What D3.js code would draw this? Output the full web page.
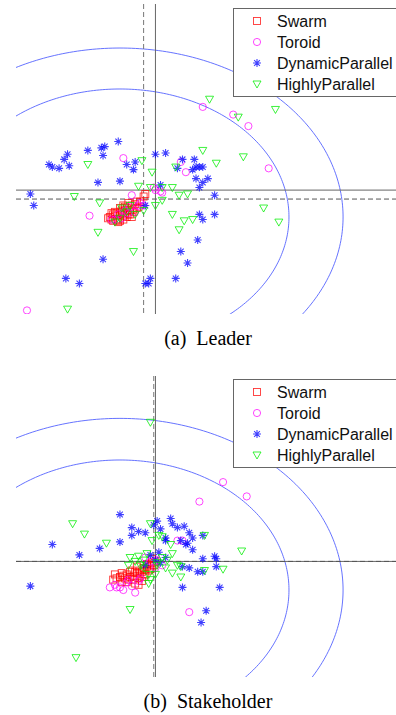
<!DOCTYPE html>
<html>
<head>
<meta charset="utf-8">
<script src="https://cdn.jsdelivr.net/npm/d3@7"></script>
<style>
  html, body { margin: 0; padding: 0; background: #fff; }
  svg { display: block; }
</style>
</head>
<body>
<svg id="chart" width="396" height="715"></svg>
<script>
// ---------- DATA ----------
const categories = ["Swarm", "Toroid", "DynamicParallel", "HighlyParallel"];
const panelTitles = ["(a)  Leader", "(b)  Stakeholder"];
const ringRadii = [1.0, 1.32];

// Leader panel ([x, y] pairs)
const leaderSwarm = [[-0.06,0.00],[-0.05,-0.02],[-0.03,0.01],[-0.02,0.03],[-0.01,-0.02],[0.00,0.02],[0.01,0.05],[0.02,0.01],[0.03,0.05],[0.04,0.07],[0.05,0.02],[0.06,0.05],[0.07,0.09],[0.08,0.06],[0.09,0.10],[-0.01,-0.04],[-0.02,-0.02],[0.02,0.09],[0.11,0.08],[0.15,0.18],[0.14,0.16],[-0.04,0.02],[0.01,0.04],[0.04,0.00],[0.05,0.11],[-0.07,-0.01],[-0.04,-0.03],[0.00,-0.03],[0.03,0.03],[0.06,0.02],[0.08,0.04],[0.10,0.07],[0.12,0.12],[0.00,0.07],[-0.03,0.04],[0.02,-0.02],[0.07,0.00],[0.10,0.12],[-0.05,0.03],[0.03,0.08]];
const leaderToroid = [[0.49,0.86],[0.67,0.80],[0.76,0.71],[0.88,0.38],[0.02,0.46],[-0.18,0.01],[0.39,0.35],[0.36,0.43],[0.21,0.21],[0.20,0.23],[0.24,0.20],[0.25,0.19],[0.14,0.09],[0.12,0.11],[-0.55,-0.73],[0.07,0.17],[-0.01,0.02],[0.03,0.05],[0.06,0.08],[0.01,-0.01],[-0.03,-0.02],[0.09,0.04],[0.05,0.03],[0.11,0.09],[-0.05,-0.02]];
const leaderDynamic = [[-0.01,0.59],[-0.19,0.52],[-0.11,0.54],[-0.09,0.55],[-0.10,0.48],[-0.31,0.49],[-0.33,0.45],[-0.42,0.41],[-0.40,0.39],[-0.36,0.38],[-0.30,0.40],[-0.13,0.27],[0.00,0.28],[0.04,0.41],[0.09,0.43],[0.08,0.37],[-0.53,0.18],[-0.51,0.09],[0.15,0.09],[0.21,0.49],[0.27,0.50],[0.37,0.45],[0.34,0.38],[0.44,0.45],[0.43,0.37],[0.45,0.39],[0.47,0.39],[0.49,0.39],[0.45,0.30],[0.49,0.27],[0.52,0.30],[0.47,0.23],[0.56,0.17],[0.24,0.25],[0.47,0.02],[0.56,0.02],[0.49,-0.02],[0.46,-0.18],[0.36,-0.27],[0.40,-0.36],[-0.10,-0.33],[-0.32,-0.48],[-0.24,-0.52],[0.18,-0.48],[0.15,-0.52],[0.17,-0.52],[0.33,-0.48]];
const leaderHighly = [[0.53,0.92],[0.70,0.78],[0.92,0.84],[0.49,0.52],[0.57,0.42],[0.73,0.47],[0.19,0.35],[0.33,0.39],[0.13,0.44],[0.31,0.23],[0.35,0.17],[0.40,0.18],[0.25,0.13],[0.21,0.09],[0.31,0.02],[0.38,-0.03],[0.43,-0.02],[0.35,-0.10],[0.85,0.07],[0.94,-0.04],[0.18,0.23],[0.25,0.23],[0.14,0.05],[-0.19,0.41],[-0.27,0.16],[-0.12,0.11],[-0.13,-0.12],[0.08,-0.27],[-0.31,-0.72],[0.11,0.24],[0.04,0.04],[0.00,-0.01],[0.06,0.09],[-0.03,-0.04],[0.09,0.02],[0.01,0.07]];
const leaderDashed = [0.14, 0.14];   // [x, y] of dashed reference lines
const leaderSolid  = [0.21, 0.21];   // [x, y] of solid reference lines

// Stakeholder panel ([x, y] pairs)
const stakeSwarm = [[-0.02,0.09],[0.01,0.13],[0.02,0.11],[0.04,0.12],[0.05,0.08],[0.06,0.14],[0.08,0.11],[0.09,0.05],[0.09,0.14],[0.11,0.09],[0.12,0.15],[0.13,0.07],[0.14,0.17],[0.15,0.12],[0.16,0.18],[0.18,0.19],[0.19,0.21],[0.21,0.22],[0.07,0.15],[0.04,0.06],[0.12,0.11],[0.10,0.18],[0.15,0.16],[0.17,0.15],[0.08,0.08],[-0.04,0.08],[0.00,0.10],[0.03,0.09],[0.06,0.10],[0.10,0.13],[0.13,0.14],[0.16,0.20],[0.18,0.16],[0.20,0.19],[0.01,0.06],[0.11,0.04],[0.14,0.10],[0.19,0.24],[-0.03,0.12]];
const stakeToroid = [[0.61,0.83],[0.47,0.68],[0.75,0.72],[0.34,0.38],[0.37,0.38],[0.41,-0.17],[-0.03,0.04],[0.00,0.02],[0.02,0.00],[0.09,-0.02],[0.05,0.08],[-0.02,0.02],[0.04,0.06],[0.11,0.07],[0.15,0.25],[0.18,0.22],[0.22,0.23],[0.25,0.19],[0.21,0.17],[0.07,0.03],[0.12,0.09],[-0.06,0.02]];
const stakeDynamic = [[0.00,0.58],[0.22,0.53],[0.20,0.50],[0.24,0.47],[0.30,0.55],[0.31,0.51],[0.34,0.48],[0.38,0.49],[0.41,0.44],[0.43,0.40],[0.49,0.42],[0.40,0.36],[0.07,0.48],[0.11,0.45],[0.15,0.44],[0.07,0.42],[0.00,0.37],[-0.40,0.35],[-0.12,0.32],[-0.24,0.27],[-0.53,0.03],[0.27,0.40],[0.27,0.38],[0.36,0.38],[0.23,0.29],[0.27,0.25],[0.49,0.24],[0.56,0.26],[0.57,0.24],[0.57,0.18],[0.37,0.18],[0.41,0.17],[0.46,0.14],[0.49,0.14],[0.37,0.02],[0.59,0.02],[0.51,-0.16],[0.48,-0.25],[0.43,0.31],[0.39,0.35],[0.18,0.27],[0.21,0.23],[0.15,0.19],[0.24,0.21]];
const stakeHighly = [[0.18,1.29],[-0.28,0.51],[-0.21,0.43],[-0.08,0.36],[0.18,0.51],[0.23,0.42],[0.19,0.38],[0.25,0.41],[0.30,0.35],[0.06,0.25],[0.05,0.19],[0.11,0.26],[0.16,0.28],[0.14,0.17],[0.17,0.12],[0.17,0.05],[0.06,-0.15],[-0.26,-0.52],[0.50,0.42],[0.72,0.30],[0.31,0.28],[0.25,0.25],[0.14,0.23],[0.28,0.23],[0.34,0.19],[0.36,0.18],[0.27,0.17],[0.31,0.13],[0.36,0.10],[0.50,0.15],[0.61,0.16],[0.18,0.08],[0.22,0.21],[0.21,0.12],[0.22,0.19],[0.09,0.22],[0.12,0.19]];
const stakeDashed = [0.20, 0.22];
const stakeSolid  = [0.21, 0.22];

// ---------- DRAWING ----------
const svg = d3.select("#chart");
const colors = { Swarm: "#ff0000", Toroid: "#ff00ff", DynamicParallel: "#0000ff", HighlyParallel: "#00ee00" };

const panels = [
  { id: "a", top: 4, bottom: 314, yDomain: [-0.758, 1.664], legendTop: 8, captionY: 345,
    series: [leaderSwarm, leaderToroid, leaderDynamic, leaderHighly], dashed: leaderDashed, solid: leaderSolid, title: panelTitles[0] },
  { id: "b", top: 376, bottom: 677, yDomain: [-0.669, 1.646], legendTop: 379, captionY: 708,
    series: [stakeSwarm, stakeToroid, stakeDynamic, stakeHighly], dashed: stakeDashed, solid: stakeSolid, title: panelTitles[1] }
];

function drawMarker(g, cat, cx, cy) {
  const c = colors[cat];
  if (cat === "Swarm") {
    g.append("rect").attr("x", cx - 3.5).attr("y", cy - 3.5).attr("width", 7).attr("height", 7)
      .attr("fill", "none").attr("stroke", c).attr("stroke-width", 0.9).attr("stroke-opacity", 0.8);
  } else if (cat === "Toroid") {
    g.append("circle").attr("cx", cx).attr("cy", cy).attr("r", 3.6)
      .attr("fill", "none").attr("stroke", c).attr("stroke-width", 0.9).attr("stroke-opacity", 0.8);
  } else if (cat === "DynamicParallel") {
    const r = 4;
    const p = d3.path();
    p.moveTo(cx, cy - r); p.lineTo(cx, cy + r);
    p.moveTo(cx - r, cy); p.lineTo(cx + r, cy);
    const d = r * 0.72;
    p.moveTo(cx - d, cy - d); p.lineTo(cx + d, cy + d);
    p.moveTo(cx - d, cy + d); p.lineTo(cx + d, cy - d);
    g.append("path").attr("d", p.toString()).attr("stroke", c).attr("stroke-width", 1.1)
      .attr("stroke-opacity", 0.75).attr("fill", "none");
  } else {
    const w = 4, h = 3.5;
    g.append("path").attr("d", `M${cx - w},${cy - h + 0.5}L${cx + w},${cy - h + 0.5}L${cx},${cy + h + 0.5}Z`)
      .attr("fill", "none").attr("stroke", c).attr("stroke-width", 0.9).attr("stroke-opacity", 0.85);
  }
}

panels.forEach(P => {
  const x = d3.scaleLinear().domain([-0.615, 1.645]).range([16, 398]);
  const y = d3.scaleLinear().domain(P.yDomain).range([P.bottom, P.top]);

  const clipId = "clip-" + P.id;
  svg.append("clipPath").attr("id", clipId).append("rect")
    .attr("x", 16).attr("y", P.top).attr("width", 382).attr("height", P.bottom - P.top);

  const g = svg.append("g").attr("clip-path", `url(#${clipId})`);

  // rings
  const angles = d3.range(0, 361, 1).map(a => a * Math.PI / 180);
  ringRadii.forEach(r => {
    const line = d3.line().x(t => x(r * Math.cos(t))).y(t => y(r * Math.sin(t)));
    g.append("path").attr("d", line(angles)).attr("fill", "none")
      .attr("stroke", "#5563ff").attr("stroke-width", 0.9);
  });

  // reference lines
  const [dx, dy] = P.dashed, [sx, sy] = P.solid;
  g.append("line").attr("x1", x(sx)).attr("x2", x(sx)).attr("y1", P.top).attr("y2", P.bottom)
    .attr("stroke", "#666").attr("stroke-width", 1);
  g.append("line").attr("x1", 16).attr("x2", 398).attr("y1", y(sy)).attr("y2", y(sy))
    .attr("stroke", "#666").attr("stroke-width", 1);
  g.append("line").attr("x1", x(dx)).attr("x2", x(dx)).attr("y1", P.top).attr("y2", P.bottom)
    .attr("stroke", "#777").attr("stroke-width", 1).attr("stroke-dasharray", "5,3");
  g.append("line").attr("x1", 16).attr("x2", 398).attr("y1", y(dy)).attr("y2", y(dy))
    .attr("stroke", "#555").attr("stroke-width", 1).attr("stroke-dasharray", "5,3");

  // markers
  categories.forEach((cat, i) => {
    const mg = g.append("g");
    P.series[i].forEach(([vx, vy]) => drawMarker(mg, cat, x(vx), y(vy)));
  });

  // legend
  const lg = svg.append("g").attr("transform", `translate(233,${P.legendTop})`);
  lg.append("rect").attr("x", 0.5).attr("y", 0.5).attr("width", 170).attr("height", 88)
    .attr("fill", "#fff").attr("stroke", "#666").attr("stroke-width", 1);
  categories.forEach((cat, i) => {
    const cy = 13 + i * 21;
    drawMarker(lg, cat, 24, cy);
    lg.append("text").attr("x", 44).attr("y", cy + 6).text(cat)
      .attr("font-family", "Liberation Sans, Arial, sans-serif").attr("font-size", 16).attr("fill", "#111");
  });

  // caption
  svg.append("text").attr("x", 208).attr("y", P.captionY).attr("text-anchor", "middle")
    .style("white-space", "pre")
    .attr("font-family", "Liberation Serif, Times New Roman, serif").attr("font-size", 20).attr("fill", "#000")
    .text(P.title);
});
</script>
</body>
</html>
